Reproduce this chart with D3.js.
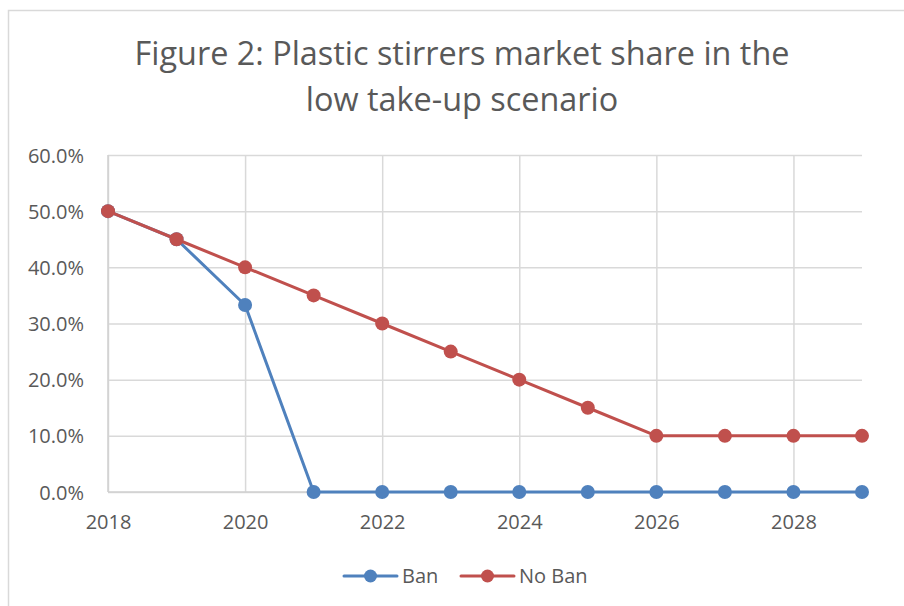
<!DOCTYPE html>
<html>
<head>
<meta charset="utf-8">
<script src="https://cdn.jsdelivr.net/npm/d3@7"></script>
<style>
  html, body { margin: 0; padding: 0; background: #fff; }
  svg { display: block; }
  text { font-family: "Open Sans", "Noto Sans", sans-serif; fill: #595959; }
</style>
</head>
<body>
<svg id="chart" width="904" height="606"></svg>
<script>
// Market share of plastic stirrers, 2018–2029
const years = [2018, 2019, 2020, 2021, 2022, 2023, 2024, 2025, 2026, 2027, 2028, 2029];
const banShare   = [0.50, 0.45, 0.333, 0, 0, 0, 0, 0, 0, 0, 0, 0];
const noBanShare = [0.50, 0.45, 0.40, 0.35, 0.30, 0.25, 0.20, 0.15, 0.10, 0.10, 0.10, 0.10];
const seriesNames = ["Ban", "No Ban"];
const seriesColors = ["#4F81BD", "#C0504D"];
const xTicks = [2018, 2020, 2022, 2024, 2026, 2028];
const yTicks = [0, 0.1, 0.2, 0.3, 0.4, 0.5, 0.6];
const titleLines = ["Figure 2: Plastic stirrers market share in the", "low take-up scenario"];

const svg = d3.select("#chart");
const W = 904, H = 606;
const gridColor = "#D9D9D9";
const labelSize = "20px";

// chart frame (extends past the right and bottom edges)
svg.append("rect")
  .attr("x", 8.5).attr("y", 10.5)
  .attr("width", W + 10).attr("height", H + 10)
  .attr("fill", "#fff").attr("stroke", gridColor).attr("stroke-width", 1.5);

const x = d3.scaleLinear().domain([2018, 2029]).range([108, 862]);
const y = d3.scaleLinear().domain([0, 0.6]).range([492, 155]);

// title
svg.append("g").selectAll("text").data(titleLines).join("text")
  .attr("x", 462).attr("y", (d, i) => 65 + i * 46)
  .attr("text-anchor", "middle")
  .style("font-size", "32.4px")
  .text(d => d);

// horizontal gridlines
const yAxis = d3.axisLeft(y).tickValues(yTicks).tickFormat(d3.format(".1%"))
  .tickSize(-(x.range()[1] - x.range()[0])).tickPadding(24);
const gy = svg.append("g").attr("transform", `translate(${x.range()[0]},0)`).call(yAxis);
gy.select(".domain").remove();
gy.selectAll(".tick line").attr("stroke", gridColor).attr("stroke-width", 1.5);
gy.selectAll(".tick text").style("font-size", labelSize).attr("fill", "#595959").attr("dy", "0.35em");

// vertical gridlines + year labels
const xAxis = d3.axisBottom(x).tickValues(xTicks).tickFormat(d3.format("d"))
  .tickSize(-(y.range()[0] - y.range()[1])).tickPadding(23);
const gx = svg.append("g").attr("transform", `translate(0,${y.range()[0]})`).call(xAxis);
gx.select(".domain").remove();
gx.selectAll(".tick line").attr("stroke", gridColor).attr("stroke-width", 1.5);
gx.selectAll(".tick text").style("font-size", labelSize).attr("fill", "#595959");

// axis lines
svg.append("line")
  .attr("x1", x(2018)).attr("x2", x(2018)).attr("y1", y(0.6)).attr("y2", y(0))
  .attr("stroke", "#D0D0D0").attr("stroke-width", 1.5);
svg.append("line")
  .attr("x1", x(2018)).attr("x2", x(2029)).attr("y1", y(0)).attr("y2", y(0))
  .attr("stroke", "#D0D0D0").attr("stroke-width", 1.5);

// series
const series = [banShare, noBanShare];
const line = d3.line().x((d, i) => x(years[i])).y(d => y(d));
series.forEach((vals, s) => {
  const g = svg.append("g");
  g.append("path").datum(vals)
    .attr("d", line).attr("fill", "none")
    .attr("stroke", seriesColors[s]).attr("stroke-width", 3)
    .attr("stroke-linejoin", "round");
  g.selectAll("circle").data(vals).join("circle")
    .attr("cx", (d, i) => x(years[i])).attr("cy", d => y(d))
    .attr("r", 7).attr("fill", seriesColors[s]);
});

// legend
const legendItems = [{ x: 344, name: seriesNames[0], c: seriesColors[0] },
                     { x: 461, name: seriesNames[1], c: seriesColors[1] }];
const lg = svg.append("g").selectAll("g").data(legendItems).join("g")
  .attr("transform", d => `translate(${d.x},576)`);
lg.append("line").attr("x1", 0).attr("x2", 53).attr("y1", 0).attr("y2", 0)
  .attr("stroke", d => d.c).attr("stroke-width", 3).attr("stroke-linecap", "round");
lg.append("circle").attr("cx", 26.5).attr("cy", 0).attr("r", 6.5).attr("fill", d => d.c);
lg.append("text").attr("x", 58).attr("y", 0).attr("dy", "0.35em")
  .style("font-size", labelSize).text(d => d.name);
</script>
</body>
</html>
